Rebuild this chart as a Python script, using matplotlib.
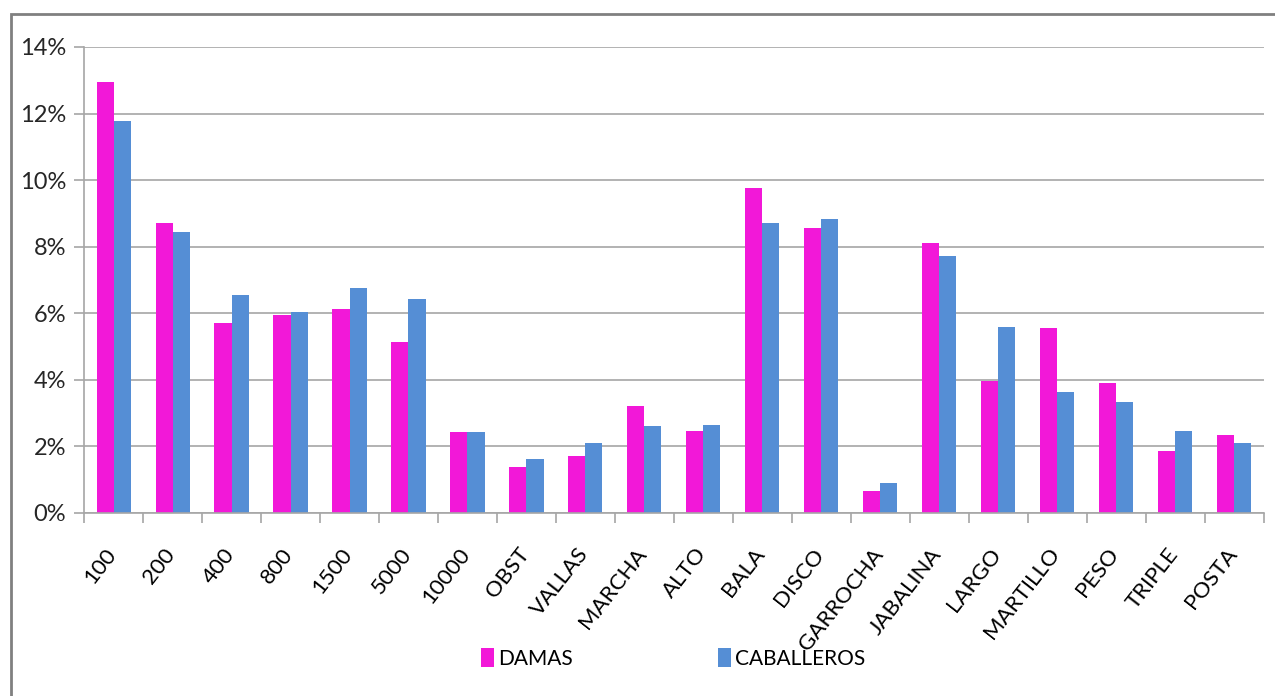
import numpy as np
import matplotlib.pyplot as plt
from matplotlib.patches import Rectangle
from matplotlib.ticker import FuncFormatter, FixedLocator

plt.rcParams['font.family'] = ['Lato', 'DejaVu Sans']

events = ['100', '200', '400', '800', '1500', '5000', '10000', 'OBST', 'VALLAS',
          'MARCHA', 'ALTO', 'BALA', 'DISCO', 'GARROCHA', 'JABALINA', 'LARGO',
          'MARTILLO', 'PESO', 'TRIPLE', 'POSTA']
damas = [12.95, 8.7, 5.72, 5.96, 6.12, 5.13, 2.42, 1.38, 1.71, 3.2,
         2.45, 9.75, 8.55, 0.65, 8.1, 3.95, 5.55, 3.9, 1.85, 2.33]
caballeros = [11.77, 8.43, 6.54, 6.03, 6.75, 6.42, 2.42, 1.61, 2.09, 2.6,
              2.63, 8.7, 8.82, 0.9, 7.73, 5.6, 3.63, 3.32, 2.46, 2.09]

pink = '#F218D8'
blue = '#558ED5'
grey = '#A6A6A6'

fig = plt.figure(figsize=(12.75, 6.96), dpi=100)
ax = fig.add_axes([0.066, 0.263, 0.925, 0.6695])

x = np.arange(len(events))
w = 0.29
ax.bar(x - w / 2, damas, w, color=pink, label='DAMAS')
ax.bar(x + w / 2, caballeros, w, color=blue, label='CABALLEROS')

ax.set_xlim(-0.5, len(events) - 0.5)
ax.set_ylim(0, 14)
ax.set_yticks(np.arange(0, 15, 2))
ax.yaxis.set_major_formatter(FuncFormatter(lambda v, p: '%d%%' % v))
ax.grid(axis='y', color=grey, linewidth=1.2)
ax.set_axisbelow(True)

# category labels centred, ticks on the boundaries
ax.set_xticks(x - 0.02)
ax.set_xticklabels(events, rotation=52, ha='right', va='center', rotation_mode='anchor', fontsize=16)
ax.tick_params(axis='x', which='major', length=0, pad=27)
ax.xaxis.set_minor_locator(FixedLocator(np.arange(-0.5, len(events), 1)))
ax.tick_params(axis='x', which='minor', length=7, color=grey, width=1.2)
ax.tick_params(axis='y', length=7, color=grey, width=1.2, labelsize=17, pad=6)
for t in ax.get_yticklabels():
    t.set_color('#262626')
for t in ax.get_xticklabels():
    t.set_color('#000000')

for s in ['top', 'right']:
    ax.spines[s].set_visible(False)
for s in ['left', 'bottom']:
    ax.spines[s].set_color(grey)
    ax.spines[s].set_linewidth(1.2)

fig.legend(loc='center', bbox_to_anchor=(0.528, 0.054), ncol=2, frameon=False,
           fontsize=15, handlelength=0.6, handleheight=1.0, handletextpad=0.2,
           columnspacing=7)

# outer chart border
fig.patches.append(Rectangle((11 / 1275, -0.05), 1.1, 1 - 14 / 696 + 0.05,
                             transform=fig.transFigure, fill=False,
                             edgecolor='#808080', linewidth=2))

fig.savefig('out.png', dpi=100)
